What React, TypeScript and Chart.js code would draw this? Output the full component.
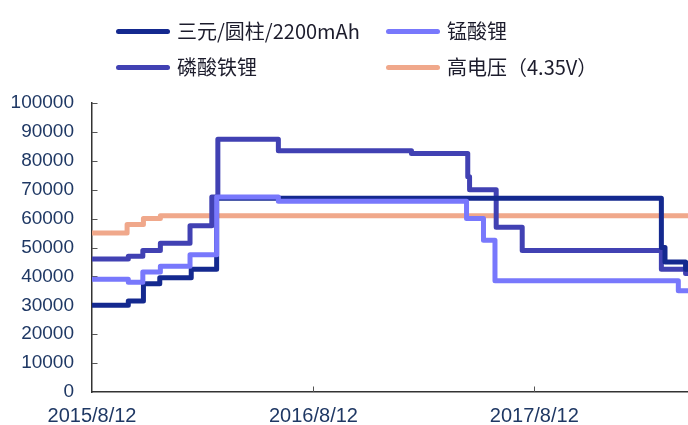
import React, { useEffect, useRef } from 'react';
import { Chart, registerables } from 'chart.js';

Chart.register(...registerables);

// ---- data ----
const seriesNames = ['三元/圆柱/2200mAh', '锰酸锂', '磷酸铁锂', '高电压（4.35V）'];
const seriesColors = ['#14298f', '#7878fc', '#4141b3', '#f0a88b'];

const startDate = '2015/8/12';
const endDate = '2018/4/23';
const xTickLabels = ['2015/8/12', '2016/8/12', '2017/8/12'];
const yMin = 0;
const yMax = 100000;
const yStep = 10000;

const sanyuanDates = ['2015/8/12', '2015/10/11', '2015/11/5', '2015/12/2', '2016/1/23', '2016/3/5', '2018/3/10', '2018/3/16', '2018/4/19'];
const sanyuanValues = [30000, 31500, 37500, 39500, 42500, 67000, 50000, 45000, 42500];

const mnDates = ['2015/8/12', '2015/10/11', '2015/11/4', '2015/12/3', '2016/1/21', '2016/3/5', '2016/6/15', '2017/4/22', '2017/5/20', '2017/6/8', '2018/4/7'];
const mnValues = [39000, 38000, 41500, 43500, 47500, 67500, 66000, 60000, 52500, 38500, 35000];

const lfpDates = ['2015/8/12', '2015/10/11', '2015/11/4', '2015/12/3', '2016/1/21', '2016/2/26', '2016/3/7', '2016/6/15', '2017/1/21', '2017/4/24', '2017/4/27', '2017/6/10', '2017/7/23', '2018/3/10', '2018/4/19'];
const lfpValues = [46000, 47000, 49000, 51500, 57500, 67500, 87500, 83500, 82500, 74500, 70000, 57000, 49000, 42500, 41000];

const hvDates = ['2015/8/12', '2015/10/9', '2015/11/5', '2015/12/3'];
const hvValues = [55000, 58000, 60000, 61000];

// ---- helpers ----
function parseDate(s: string): number {
  const [y, m, d] = s.split('/').map(Number);
  return Date.UTC(y, m - 1, d);
}
function toDay(s: string): number {
  return Math.round((parseDate(s) - parseDate(startDate)) / 86400000);
}
function stepPoints(dates: string[], values: number[]) {
  const pts = dates.map((d, i) => ({ x: toDay(d), y: values[i] }));
  pts.push({ x: toDay(endDate), y: values[values.length - 1] });
  return pts;
}

const tickColor = '#1f3864';
const axisColor = '#333333';

const innerTicks = {
  id: 'innerTicks',
  beforeDatasetsDraw(chart: any) {
    const { ctx, chartArea, scales } = chart;
    ctx.save();
    ctx.strokeStyle = '#555555';
    ctx.lineWidth = 1;
    scales.y.ticks.forEach((t: any) => {
      if (t.value === yMin) return;
      const y = Math.round(scales.y.getPixelForValue(t.value)) + 0.5;
      ctx.beginPath();
      ctx.moveTo(chartArea.left, y);
      ctx.lineTo(chartArea.left + 5.5, y);
      ctx.stroke();
    });
    scales.x.ticks.forEach((t: any) => {
      if (t.value === 0) return;
      const x = Math.round(scales.x.getPixelForValue(t.value)) + 0.5;
      ctx.beginPath();
      ctx.moveTo(x, chartArea.bottom);
      ctx.lineTo(x, chartArea.bottom - 5.5);
      ctx.stroke();
    });
    ctx.restore();
  },
};

export default function App() {
  const ref = useRef<HTMLCanvasElement | null>(null);

  useEffect(() => {
    if (!ref.current) return;
    const common = {
      borderWidth: 5,
      pointRadius: 0,
      stepped: true as const,
      fill: false,
      borderJoinStyle: 'round' as const,
      borderCapStyle: 'butt' as const,
    };
    const chart = new Chart(ref.current, {
      type: 'line',
      data: {
        datasets: [
          { label: seriesNames[1], data: stepPoints(mnDates, mnValues), borderColor: seriesColors[1], backgroundColor: seriesColors[1], ...common },
          { label: seriesNames[0], data: stepPoints(sanyuanDates, sanyuanValues), borderColor: seriesColors[0], backgroundColor: seriesColors[0], ...common },
          { label: seriesNames[2], data: stepPoints(lfpDates, lfpValues), borderColor: seriesColors[2], backgroundColor: seriesColors[2], ...common },
          { label: seriesNames[3], data: stepPoints(hvDates, hvValues), borderColor: seriesColors[3], backgroundColor: seriesColors[3], ...common },
        ],
      },
      options: {
        responsive: false,
        animation: false,
        layout: { padding: { top: 103, right: 0, bottom: 0, left: 0 } },
        plugins: { legend: { display: false }, tooltip: { enabled: false } },
        scales: {
          x: {
            type: 'linear',
            min: 0,
            max: toDay(endDate),
            grid: { display: false, drawTicks: false },
            border: { display: true, color: axisColor, width: 1.5 },
            afterBuildTicks: (s: any) => {
              s.ticks = xTickLabels.map((l) => ({ value: toDay(l) }));
            },
            afterFit: (s: any) => {
              s.height = 33;
            },
            ticks: {
              autoSkip: false,
              maxRotation: 0,
              padding: 12,
              color: tickColor,
              font: { family: 'Liberation Sans', size: 20 },
              callback: (v: any) => {
                const i = xTickLabels.findIndex((l) => toDay(l) === v);
                return i >= 0 ? xTickLabels[i] : '';
              },
            },
          },
          y: {
            min: yMin,
            max: yMax,
            grid: { display: false, drawTicks: false },
            border: { display: true, color: axisColor, width: 1.5 },
            afterFit: (s: any) => {
              s.width = 92;
            },
            ticks: {
              stepSize: yStep,
              padding: 18,
              color: tickColor,
              font: { family: 'Liberation Sans', size: 19 },
              callback: (v: any) => String(v),
            },
          },
        },
      },
      plugins: [innerTicks],
    });
    return () => chart.destroy();
  }, []);

  const legendItems = [0, 1, 2, 3];
  return (
    <div style={{ position: 'fixed', left: 0, top: 0, width: 688, height: 425, background: '#ffffff', overflow: 'hidden' }}>
      <canvas ref={ref} width={688} height={425} style={{ position: 'absolute', left: 0, top: 0, width: 688, height: 425 }} />
      {legendItems.map((i) => {
        const col = i % 2;
        const row = Math.floor(i / 2);
        return (
          <div
            key={i}
            style={{
              position: 'absolute',
              left: col === 0 ? 116 : 386,
              top: row === 0 ? 19 : 55,
              height: 24,
              display: 'flex',
              alignItems: 'center',
              whiteSpace: 'nowrap',
              fontFamily: '"Noto Sans CJK SC", sans-serif',
              fontSize: 20,
              lineHeight: '24px',
              color: '#1c1c2c',
            }}
          >
            <div style={{ width: 54, height: 5, borderRadius: 3, background: seriesColors[i], marginRight: 7 }} />
            <span>{seriesNames[i]}</span>
          </div>
        );
      })}
    </div>
  );
}
